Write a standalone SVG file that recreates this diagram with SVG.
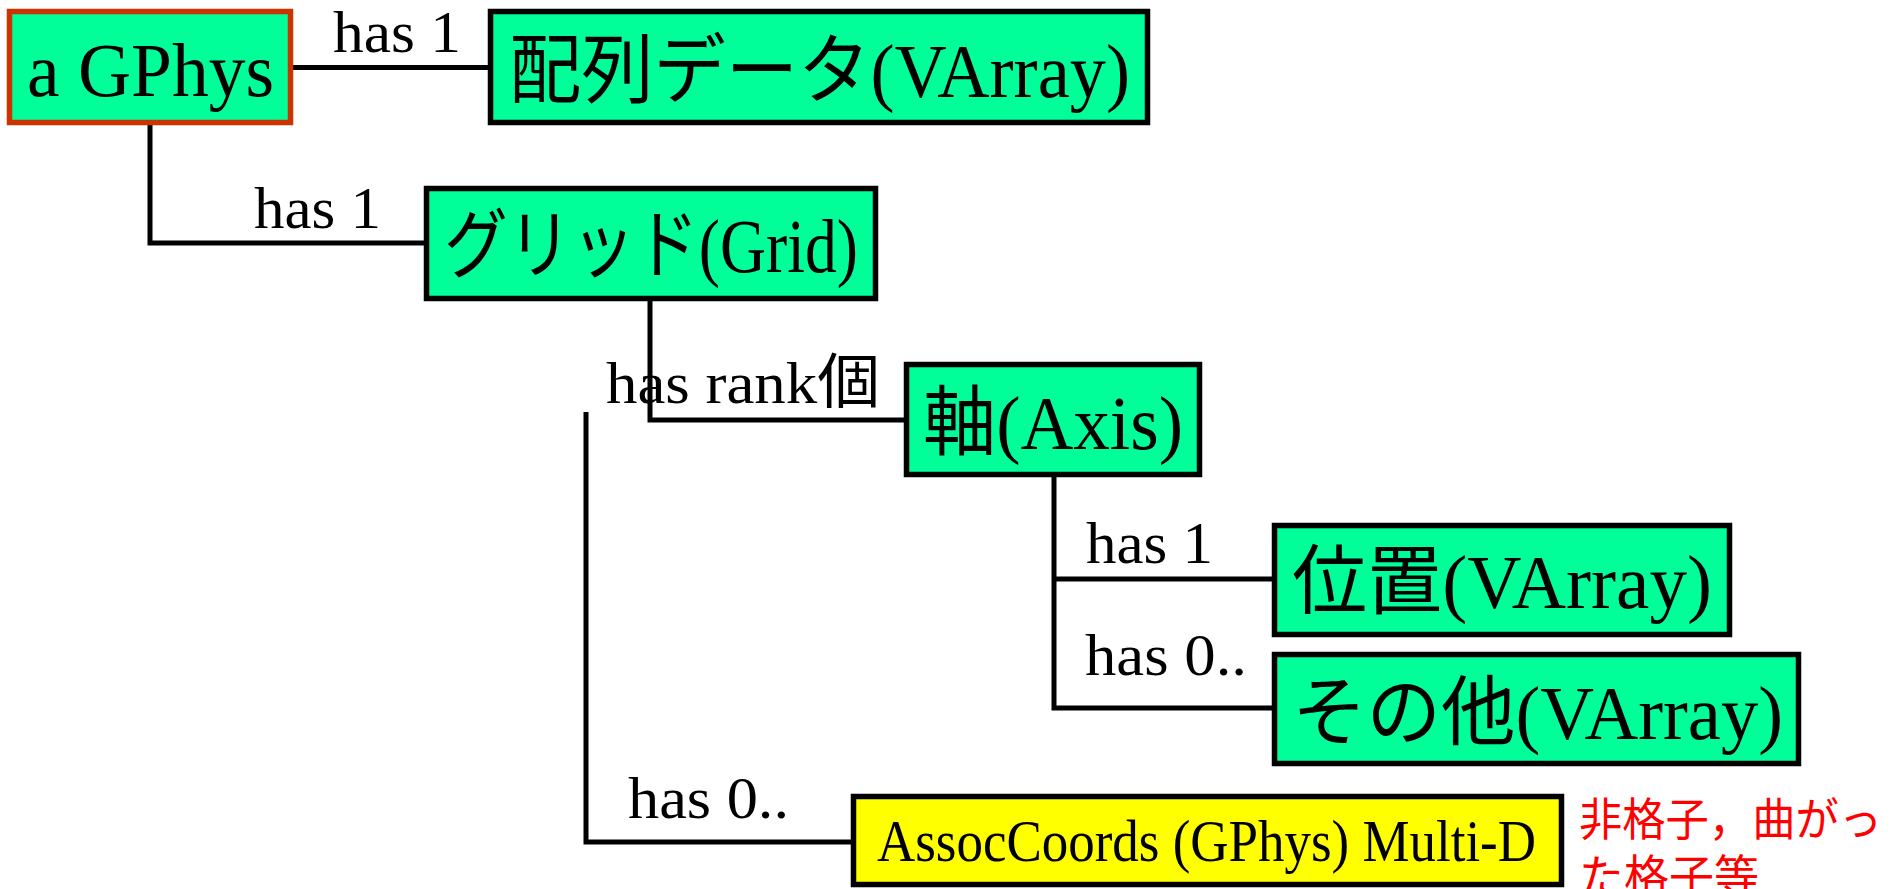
<svg xmlns="http://www.w3.org/2000/svg" width="1890" height="889" viewBox="0 0 1890 889">
<style>
.box{fill:#00FF99;stroke:#000;stroke-width:5.5}
.lbl{font-family:"Liberation Serif","Noto Sans CJK JP",serif;font-size:76px;fill:#000}
.has{font-family:"Liberation Serif","Noto Sans CJK JP",serif;font-size:60px;fill:#000}
.con{fill:none;stroke:#000;stroke-width:5}
.note{font-family:"Noto Sans CJK JP","Noto Sans",sans-serif;font-size:45px;fill:#FF0000}
</style>
<rect width="1890" height="889" fill="#fff"/>
<g id="connectors">
<path class="con" d="M293 67.5 H488"/>
<path class="con" d="M150 125 V243 H424"/>
<path class="con" d="M650 301 V420 H904"/>
<path class="con" d="M1054 477 V708 H1272"/>
<path class="con" d="M1054 579 H1272"/>
<path class="con" d="M586 412 V842 H851"/>
<text class="has" x="333" y="52" textLength="128" lengthAdjust="spacingAndGlyphs">has 1</text>
<text class="has" x="254" y="228" textLength="127" lengthAdjust="spacingAndGlyphs">has 1</text>
<text class="has" x="606" y="403" textLength="274" lengthAdjust="spacingAndGlyphs">has rank個</text>
<text class="has" x="1086" y="563" textLength="127" lengthAdjust="spacingAndGlyphs">has 1</text>
<text class="has" x="1085" y="675" textLength="162" lengthAdjust="spacingAndGlyphs">has 0..</text>
<text class="has" x="628" y="818" textLength="161" lengthAdjust="spacingAndGlyphs">has 0..</text>
</g>
<g id="gphys">
<rect x="9.5" y="11.5" width="281" height="111" fill="#00FF99" stroke="#CC3300" stroke-width="5.5"/>
<text class="lbl" x="27" y="96" textLength="247" lengthAdjust="spacingAndGlyphs">a GPhys</text>
</g>
<g id="varray">
<rect class="box" x="490.5" y="11.5" width="657" height="111"/>
<text class="lbl" x="509" y="97" textLength="621" lengthAdjust="spacingAndGlyphs">配列データ(VArray)</text>
</g>
<g id="grid">
<rect class="box" x="426.5" y="188.5" width="449" height="110"/>
<text class="lbl" x="444" y="272" textLength="414" lengthAdjust="spacingAndGlyphs">グリッド(Grid)</text>
</g>
<g id="axis">
<rect class="box" x="906.5" y="364.5" width="293" height="110"/>
<text class="lbl" x="923" y="449" textLength="260" lengthAdjust="spacingAndGlyphs">軸(Axis)</text>
</g>
<g id="position">
<rect class="box" x="1274.5" y="525.5" width="455" height="109"/>
<text class="lbl" x="1292" y="608" textLength="420" lengthAdjust="spacingAndGlyphs">位置(VArray)</text>
</g>
<g id="others">
<rect class="box" x="1274.5" y="654.5" width="524" height="109"/>
<text class="lbl" x="1292" y="739" textLength="491" lengthAdjust="spacingAndGlyphs">その他(VArray)</text>
</g>
<g id="assoc">
<rect x="853.5" y="796.5" width="708" height="88" fill="#FFFF00" stroke="#000" stroke-width="5.5"/>
<text class="has" x="877" y="861" textLength="659" lengthAdjust="spacingAndGlyphs">AssocCoords (GPhys) Multi-D</text>
</g>
<g id="note">
<text class="note" x="1579" y="836" textLength="303" lengthAdjust="spacingAndGlyphs">非格子，曲がっ</text>
<text class="note" x="1579" y="893">た格子等</text>
</g>
</svg>
